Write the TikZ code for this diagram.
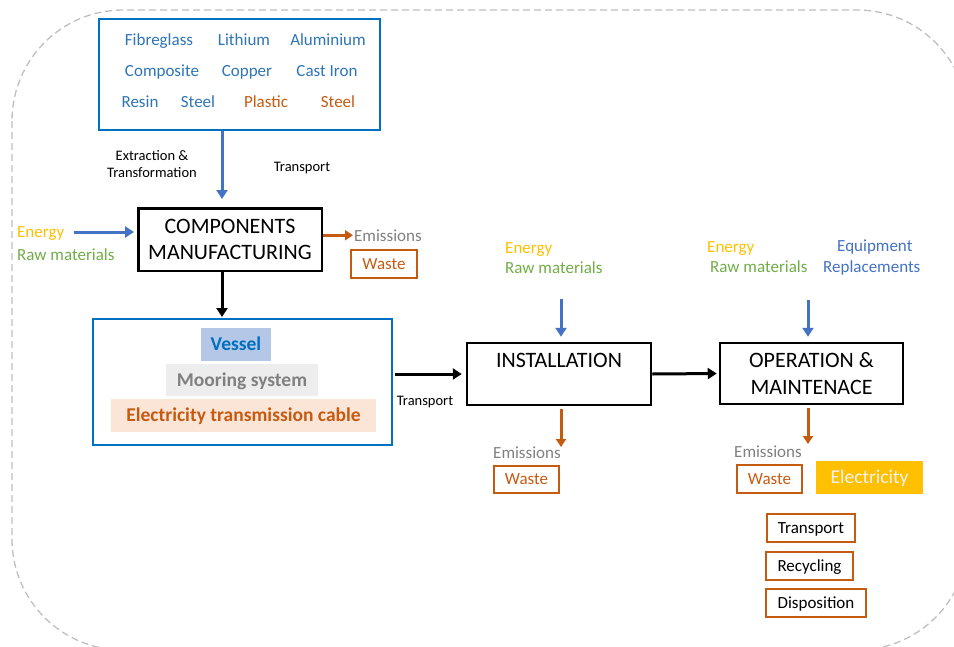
\documentclass[tikz,border=0pt]{standalone}
\usepackage{fontspec}
\setmainfont{Carlito}
\usepackage{tikz}
\usetikzlibrary{arrows.meta}
\definecolor{matblue}{RGB}{0,112,192}
\definecolor{txtblue}{RGB}{46,117,182}
\definecolor{arrblue}{RGB}{68,114,196}
\definecolor{rust}{RGB}{197,90,17}
\definecolor{gold}{RGB}{255,192,0}
\definecolor{leaf}{RGB}{112,173,71}
\definecolor{ash}{RGB}{128,128,128}
\definecolor{vesselfill}{RGB}{180,199,231}
\definecolor{mooringfill}{RGB}{237,237,237}
\definecolor{cablefill}{RGB}{251,229,214}
\definecolor{framegray}{RGB}{191,191,191}
\tikzset{
    frame/.style={framegray, line width=1.3pt, dash pattern=on 7pt off 4pt, rounded corners=111pt},
    stage/.style={draw=black, line width=2.5pt, inner sep=0pt, align=center,
        font=\fontsize{22}{26.5}\selectfont},
    matbox/.style={draw=matblue, line width=2pt, inner sep=0pt},
    mattext/.style={inner sep=0pt, anchor=base, text=txtblue, font=\fontsize{17}{20}\selectfont},
    inlabel/.style={inner sep=0pt, anchor=base west, font=\fontsize{17}{20}\selectfont},
    note/.style={inner sep=0pt, anchor=base, align=center, font=\fontsize{14.5}{17}\selectfont},
    partbox/.style={inner sep=0pt, text height=14pt, text depth=2pt,
        font=\bfseries\fontsize{19.5}{23}\selectfont},
    wastebox/.style={draw=rust, line width=1.8pt, inner sep=0pt, text height=12pt, text depth=2pt,
        text=rust, font=\fontsize{17}{20}\selectfont},
    endbox/.style={wastebox, text=black},
    inarrow/.style={arrblue, line width=3pt, -{Triangle[width=11pt,length=9pt]}},
    outarrow/.style={rust, line width=3pt, -{Triangle[width=10pt,length=8pt]}},
    flow/.style={black, line width=3pt, -{Triangle[width=11pt,length=9pt]}},
}
\begin{document}
\begin{tikzpicture}[x=1pt,y=-1pt]
\useasboundingbox (0,0) rectangle (954,646);
\begin{scope}
\clip (0,0) rectangle (954,646);
\draw[frame] (12,10) rectangle (968,650);
\end{scope}

% raw materials
\node[matbox, minimum width=281pt, minimum height=111pt] (mat) at (239.5,74.5) {};
\node[mattext] (fibre) at (159,45) {Fibreglass};
\node[mattext] (lithium) at (244,45) {Lithium};
\node[mattext] (alu) at (328,45) {Aluminium};
\node[mattext] (composite) at (162,76) {Composite};
\node[mattext] (copper) at (247,76) {Copper};
\node[mattext] (castiron) at (327,76) {Cast Iron};
\node[mattext] (resin) at (140,107) {Resin};
\node[mattext] (steelA) at (198,107) {Steel};
\node[mattext, text=rust] (plastic) at (266,107) {Plastic};
\node[mattext, text=rust] (steelB) at (338,107) {Steel};

\node[note, anchor=center] (extract) at (152,164.5) {Extraction \&\\Transformation};
\node[note] (transA) at (302,171) {Transport};

% manufacturing
\node[stage, minimum width=183.5pt, minimum height=62.5pt] (comp) at (230,239.5) {COMPONENTS\\MANUFACTURING};
\node[inlabel, text=gold] (energyA) at (17,237) {Energy};
\node[inlabel, text=leaf] (rawA) at (17,260) {Raw materials};
\coordinate (srcA) at (74,232);
\node[inlabel, text=ash] (emisA) at (354,241) {Emissions};
\node[wastebox, minimum width=66pt, minimum height=28pt] (wasteA) at (384,264) {Waste};

\draw[inarrow, shorten >=8pt] ([xshift=-17.5pt]mat.south) -- ([xshift=-8pt]comp.north);
\draw[inarrow, shorten >=3pt] (srcA) -- (srcA -| comp.west);
\draw[outarrow, shorten >=1pt] (comp.east |- emisA.west) -- (emisA.west);

% components
\node[matbox, minimum width=299pt, minimum height=126pt] (comps) at (242.5,382) {};
\node[partbox, fill=vesselfill, text=matblue, minimum width=70pt, minimum height=33pt] (vessel) at (236,344.5) {Vessel};
\node[partbox, fill=mooringfill, text=ash, minimum width=152pt, minimum height=32pt] (mooring) at (242,380) {Mooring system};
\node[partbox, fill=cablefill, text=rust, minimum width=265pt, minimum height=33pt] (cable) at (243.5,415.5) {Electricity transmission cable};

\draw[flow, shorten >=1pt] ([xshift=-8pt]comp.south) coordinate (dropA) -- (dropA |- comps.north);

% installation
\node[stage, minimum width=184pt, minimum height=62pt] (inst) at (559,374) {INSTALLATION\\\mbox{}};
\node[note] (transB) at (425,405) {Transport};
\draw[flow, shorten <=2pt, shorten >=4pt] ([yshift=8pt]comps.east) -- (inst.west);
\node[inlabel, text=gold] (energyB) at (505,253) {Energy};
\node[inlabel, text=leaf] (rawB) at (505,273) {Raw materials};
\coordinate (srcB) at (561,299);
\coordinate (sinkB) at (561,447);
\draw[inarrow, shorten >=5pt] (srcB) -- (srcB |- inst.north);
\draw[outarrow, shorten <=3pt] (sinkB |- inst.south) -- (sinkB);
\node[inlabel, text=ash] (emisB) at (493,458) {Emissions};
\node[wastebox, minimum width=65pt, minimum height=27pt] (wasteB) at (526.5,479.5) {Waste};

% operation and maintenance
\node[stage, minimum width=183pt, minimum height=61pt] (op) at (811.5,373.5) {OPERATION \&\\MAINTENACE};
\draw[flow, shorten >=2pt] (inst.east) -- (op.west);
\node[inlabel, text=gold] (energyC) at (707,252) {Energy};
\node[inlabel, text=leaf] (rawC) at (710,272) {Raw materials};
\node[inlabel, text=arrblue] (equip) at (837,251) {Equipment};
\node[inlabel, text=arrblue] (replace) at (823,272) {Replacements};
\coordinate (srcC) at (808,300);
\coordinate (sinkC) at (808,444);
\draw[inarrow, shorten >=5pt] (srcC) -- (srcC |- op.north);
\draw[outarrow, shorten <=3pt] (sinkC |- op.south) -- (sinkC);
\node[inlabel, text=ash] (emisC) at (734,457) {Emissions};
\node[wastebox, minimum width=65pt, minimum height=28pt] (wasteC) at (769.5,479) {Waste};
\node[inner sep=0pt, fill=gold, text=white!95!black, minimum width=107pt, minimum height=33pt,
    text height=14pt, text depth=2pt, font=\fontsize{19.5}{23}\selectfont] (elec) at (869.5,477.5) {Electricity};

% end of life
\node[endbox, minimum width=88pt, minimum height=28pt] (transC) at (811,528) {Transport};
\node[endbox, minimum width=87pt, minimum height=28pt] (recycle) at (809.5,566) {Recycling};
\node[endbox, minimum width=100pt, minimum height=28pt] (dispose) at (816,603) {Disposition};
\end{tikzpicture}
\end{document}
